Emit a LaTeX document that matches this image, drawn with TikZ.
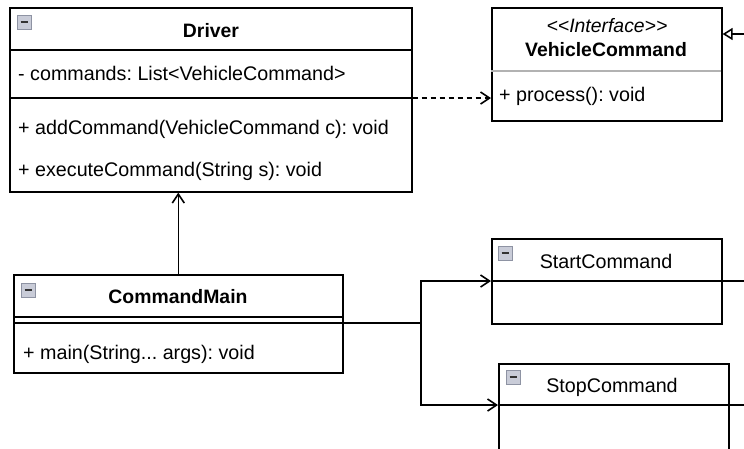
\documentclass[tikz,border=0pt]{standalone}
\usepackage{fontspec}
\setmainfont{Liberation Sans}
\usetikzlibrary{arrows.meta}
\definecolor{iconfill}{HTML}{C9CCD8}
\definecolor{iconedge}{HTML}{8E93A3}
\frenchspacing
\begin{document}
\begin{tikzpicture}[x=1pt,y=-1pt,
  cls/.style={draw, line width=1.6pt, inner sep=0pt, anchor=north west},
  txt/.style={font=\fontsize{19.7}{22}\selectfont, inner sep=0pt, anchor=base},
  ltxt/.style={txt, anchor=base west},
  ln/.style={line width=1.6pt},
  openarrow/.style={-{Straight Barb[length=9pt,width=12pt]}},
  minusicon/.pic={
    \draw[draw=iconedge, fill=iconfill, line width=0.8pt] (0,0) rectangle (14,14);
    \draw[line width=2pt, draw=black!80] (3.5,7) -- (10.5,7);
  }]
\useasboundingbox (0,0) rectangle (744,448);

% Driver
\node[cls, minimum width=402pt, minimum height=184pt] (driver) at (9,7) {};
\draw[ln] (9,50) -- (411,50);
\draw[ln] (9,98) -- (411,98);
\pic at (17,15) {minusicon};
\node[txt, font=\fontsize{19.4}{22}\selectfont\bfseries] (dname) at (211,37) {Driver};
\node[ltxt] (dattr) at (18,80) {- commands: List<VehicleCommand>};
\node[ltxt] (dm1) at (18,134) {+ addCommand(VehicleCommand c): void};
\node[ltxt] (dm2) at (18,176) {+ executeCommand(String s): void};

% VehicleCommand
\node[cls, minimum width=230pt, minimum height=113pt] (vc) at (491,7) {};
\draw[line width=1.2pt, gray!60] (491,71) -- (721,71);
\node[txt, font=\fontsize{19.4}{22}\selectfont\itshape] (vcst) at (607,32) {<\kern0pt<Interface>\kern0pt>};
\node[txt, font=\fontsize{19.4}{22}\selectfont\bfseries] (vcname) at (606,56) {VehicleCommand};
\node[ltxt] (vcm) at (499,101) {+ process(): void};

% CommandMain
\node[cls, minimum width=329pt, minimum height=98pt] (cm) at (13,274) {};
\draw[ln] (13,317) -- (342,317);
\draw[ln] (13,323) -- (342,323);
\pic at (21,283) {minusicon};
\node[txt, font=\fontsize{19.4}{22}\selectfont\bfseries] (cmname) at (178,303) {CommandMain};
\node[ltxt] (cmm) at (23,359) {+ main(String... args): void};

% StartCommand
\node[cls, minimum width=230pt, minimum height=85pt] (start) at (491,238) {};
\draw[ln] (491,281) -- (721,281);
\pic at (498,246) {minusicon};
\node[txt] (startname) at (606,268) {StartCommand};

% StopCommand
\node[cls, minimum width=230pt, minimum height=100pt] (stop) at (498,363) {};
\draw[ln] (498,405) -- (728,405);
\pic at (506,370) {minusicon};
\node[txt] (stopname) at (612,392) {StopCommand};

% connectors
\draw[ln, openarrow] (cm.north) -- (cm.north |- driver.south);
\draw[ln, openarrow, dash pattern=on 5pt off 4pt] (driver.east |- 0,98) -- (vc.west |- 0,98);
\coordinate (j) at (421,323);
\draw[ln] (cm.east |- j) -- (j);
\draw[ln, openarrow] (j) |- (start.west |- 0,281);
\draw[ln, openarrow] (j) |- (stop.west |- 0,405);
\coordinate (r0) at (746,34);
\coordinate (r1) at (746,281);
\coordinate (r2) at (746,405);
\draw[ln, -{Triangle[open,length=10pt,width=12pt]}] (r0) -- (vc.east |- r0);
\draw[ln] (start.east |- r1) -- (r1);
\draw[ln] (stop.east |- r2) -- (r2);
\end{tikzpicture}
\end{document}
